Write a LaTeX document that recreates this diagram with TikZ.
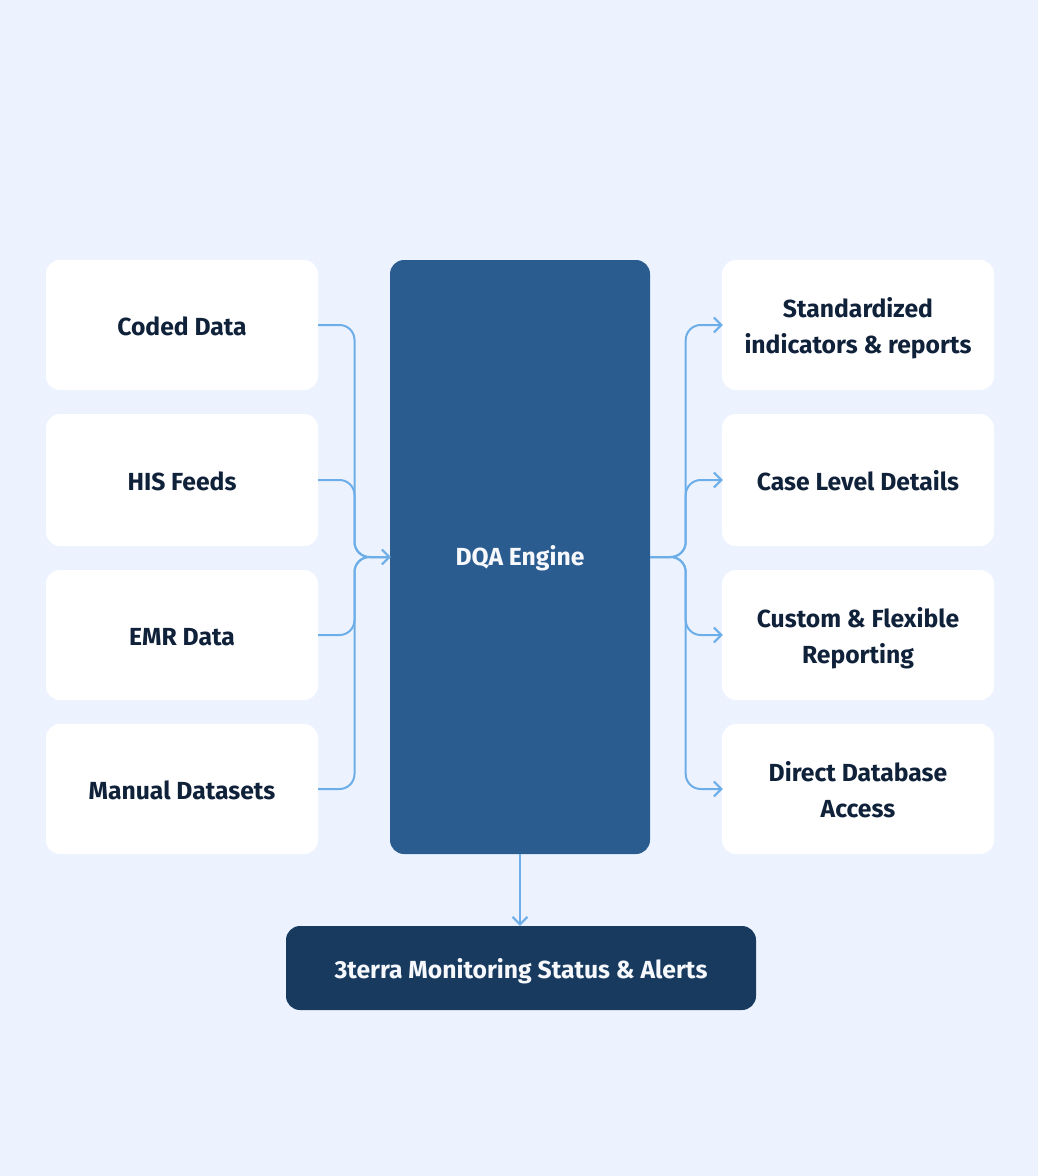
\documentclass[tikz,border=0pt]{standalone}
\usepackage{fontspec}
\setmainfont{Fira Sans}
\usetikzlibrary{arrows.meta,calc}
\definecolor{pagebg}{HTML}{ECF3FE}
\definecolor{enginecol}{HTML}{2B5C8F}
\definecolor{alertcol}{HTML}{183A5F}
\definecolor{inkcol}{HTML}{10213A}
\definecolor{linkcol}{HTML}{6DAEE8}
\definecolor{paper}{HTML}{F6F8FC}
\tikzset{
  x=1pt,y=-1pt,
  boxtext/.style={font=\fontsize{24.7}{36}\selectfont\bfseries,align=center,text=inkcol,inner sep=0pt},
  cardlabel/.style={boxtext,yshift=-2.8pt},
  lightlabel/.style={boxtext,text=paper},
  card/.style={fill=white,rounded corners=14pt,minimum width=272pt,inner sep=0pt},
  dark/.style={rounded corners=14pt,inner sep=0pt},
  conn/.style={draw=linkcol,line width=2pt,rounded corners=15pt},
  arrowed/.style={conn,-{Straight Barb[length=7.5pt,width=15pt,line width=2pt]}},
}
\begin{document}
\begin{tikzpicture}
\useasboundingbox[fill=pagebg] (0,0) rectangle (1038,1176);
\node[card,minimum height=130pt,label={[cardlabel]center:{\strut Coded Data}}] (coded) at (182,325) {};
\node[card,minimum height=132pt,label={[cardlabel]center:{\strut HIS Feeds}}] (his) at (182,480) {};
\node[card,minimum height=130pt,label={[cardlabel]center:{\strut EMR Data}}] (emr) at (182,635) {};
\node[card,minimum height=130pt,label={[cardlabel]center:{\strut Manual Datasets}}] (manual) at (182,789) {};
\node[dark,fill=enginecol,minimum width=260pt,minimum height=594pt,label={[lightlabel,yshift=-1.5pt]center:{\strut DQA Engine}}] (engine) at (520,557) {};
\node[card,minimum height=130pt,label={[cardlabel]center:{\strut Standardized\\\strut indicators \& reports}}] (std) at (858,325) {};
\node[card,minimum height=132pt,label={[cardlabel]center:{\strut Case Level Details}}] (case) at (858,480) {};
\node[card,minimum height=130pt,label={[cardlabel]center:{\strut Custom \& Flexible\\\strut Reporting}}] (custom) at (858,635) {};
\node[card,minimum height=130pt,label={[cardlabel]center:{\strut Direct Database\\\strut Access}}] (direct) at (858,789) {};
\node[dark,fill=alertcol,minimum width=470pt,minimum height=84pt,label={[lightlabel,yshift=-2.8pt]center:{\strut 3terra Monitoring Status \& Alerts}}] (alerts) at (521,968) {};
\coordinate (busL) at (354.5,557);
\coordinate (busR) at (685.7,557);
\foreach \n in {coded,his,emr,manual}
  \draw[conn] (\n.east) -| (busL) -- (engine.west);
\draw[arrowed,rounded corners=0pt] (busL) ++(20,0) -- ($(engine.west)+(1,0)$);
\foreach \n in {std,case,custom,direct}
  \draw[arrowed] (engine.east) -- (busR) |- ($(\n.west)+(1,0)$);
\draw[arrowed] (engine.south) -- (engine.south |- alerts.north);
\end{tikzpicture}
\end{document}
